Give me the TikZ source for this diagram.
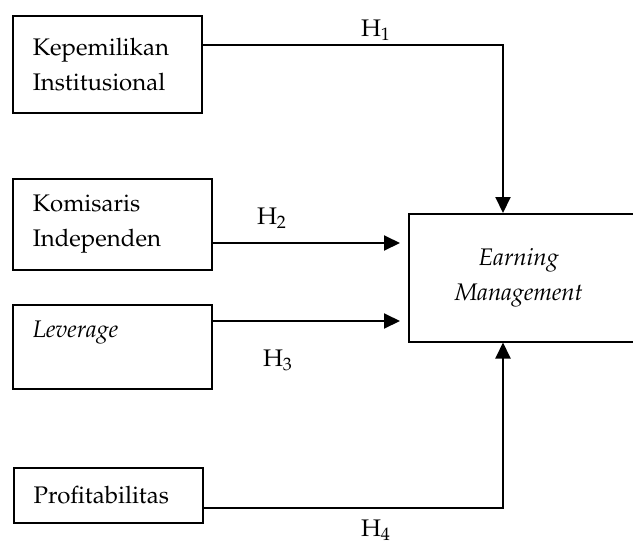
\documentclass[tikz,border=0pt]{standalone}
\usepackage[T1]{fontenc}
\usepackage{mathpazo}
\usepackage{tikz}
\usetikzlibrary{arrows.meta}

\tikzset{
  varbox/.style={draw, line width=0.75pt, anchor=north west, inner xsep=10pt,
                 inner ysep=0pt, align=left},
  link/.style={line width=1pt, -{Triangle[length=8pt,width=7.5pt]}},
  hyp/.style={inner sep=0pt}
}

\begin{document}
\begin{tikzpicture}[x=0.5pt,y=-0.5pt,font=\fontsize{12}{17.5}\selectfont]
      \clip (0,0) rectangle (633,547);
      \useasboundingbox (0,0) rectangle (633,547);

      % variabel independen
      \node[varbox, text width=74.5pt, minimum height=48.5pt] (kep) at (12,15)
            {Kepemilikan\\Institusional};
      \node[varbox, text width=79.5pt, minimum height=45.5pt] (kom) at (12,178)
            {Komisaris\\Independen};
      \node[varbox, text width=79.5pt, minimum height=42pt] (lev) at (12,304)
            {\textit{Leverage}\\ \mbox{}};
      \node[varbox, text width=74.5pt, minimum height=27.5pt] (pro) at (13,467)
            {Profitabilitas};

      % variabel dependen
      \node[draw, line width=0.75pt, anchor=north west, minimum width=116pt,
            minimum height=64pt, align=center, inner sep=0pt] (em) at (408,213)
            {\hspace*{-6pt}\textit{Earning}\\\hspace*{-6pt}\textit{Management}};

      \coordinate (colx) at (503,0);
      \coordinate (row1) at (0,45);
      \coordinate (row2) at (0,243);
      \coordinate (row3) at (0,321);
      \coordinate (row4) at (0,508);

      \draw[link] (kep.east |- row1) -| (em.north -| colx);
      \draw[link, shorten >=4pt] (kom.east |- row2) -- (em.west |- row2);
      \draw[link, shorten >=4pt] (lev.east |- row3) -- (em.west |- row3);
      \draw[link] (pro.east |- row4) -| (em.south -| colx);

      \node[hyp] (h1) at (376,30) {H\textsubscript{1}};
      \node[hyp] (h2) at (272,218) {H\textsubscript{2}};
      \node[hyp] (h3) at (278,360) {H\textsubscript{3}};
      \node[hyp] (h4) at (376,530) {H\textsubscript{4}};
\end{tikzpicture}
\end{document}
